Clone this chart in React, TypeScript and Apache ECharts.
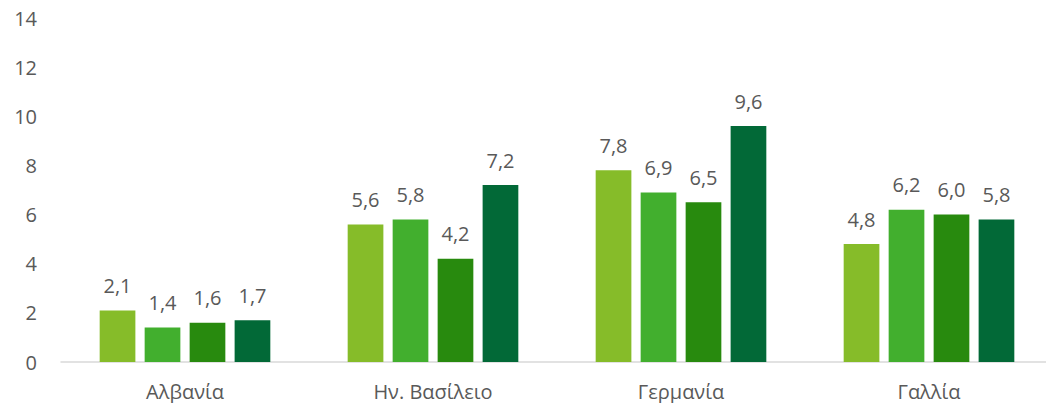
import React, { useEffect, useRef } from "react";
import * as echarts from "echarts";

const categories = ["Αλβανία", "Ην. Βασίλειο", "Γερμανία", "Γαλλία"];
const series1 = [2.1, 5.6, 7.8, 4.8];
const series2 = [1.4, 5.8, 6.9, 6.2];
const series3 = [1.6, 4.2, 6.5, 6.0];
const series4 = [1.7, 7.2, 9.6, 5.8];
const colors = ["#86BC29", "#42AF2E", "#288A0E", "#026937"];

const FONT = "'Open Sans', 'Noto Sans', sans-serif";

export default function App() {
  const ref = useRef<HTMLDivElement>(null);
  useEffect(() => {
    if (!ref.current) return;
    const chart = echarts.init(ref.current, undefined, { renderer: "svg" });
    const allSeries = [series1, series2, series3, series4];
    chart.setOption({
      animation: false,
      grid: {
        left: 61,
        width: 992,
        top: 18,
        bottom: 41,
        containLabel: false,
        outerBoundsMode: "none",
      },
      xAxis: {
        type: "category",
        data: categories,
        axisLine: { lineStyle: { color: "#D9D9D9", width: 1.5 } },
        axisTick: { show: false },
        axisLabel: {
          color: "#595959",
          fontSize: 20,
          lineHeight: 20,
          fontFamily: FONT,
          margin: 19,
        },
      },
      yAxis: {
        type: "value",
        min: 0,
        max: 14,
        interval: 2,
        splitLine: { show: false },
        axisLine: { show: false },
        axisTick: { show: false },
        axisLabel: { color: "#595959", fontSize: 20, fontFamily: FONT, margin: 24 },
      },
      series: allSeries.map((d, i) => ({
        type: "bar",
        data: d,
        barWidth: 35.7,
        barGap: "26%",
        itemStyle: { color: colors[i] },
        label: {
          show: true,
          position: "top",
          distance: 15,
          color: "#595959",
          fontSize: 20,
          fontFamily: FONT,
          formatter: (p: any) => Number(p.value).toFixed(1).replace(".", ","),
        },
      })),
    });
    return () => chart.dispose();
  }, []);
  return (
    <div
      ref={ref}
      style={{ position: "absolute", left: 0, top: 0, width: 1046, height: 403, background: "#fff" }}
    />
  );
}
